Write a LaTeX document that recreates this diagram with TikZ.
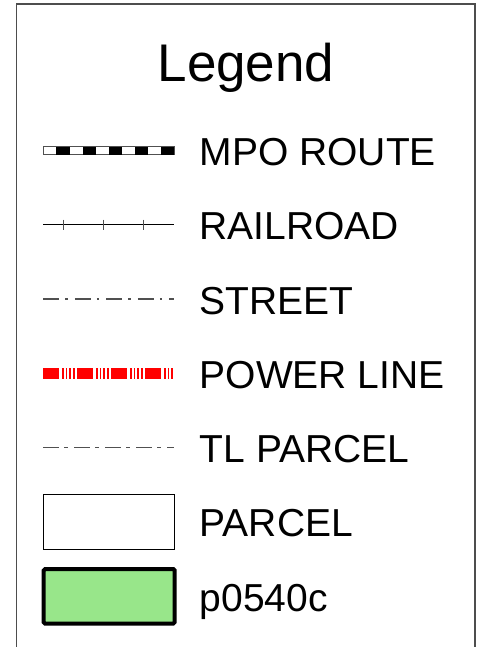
\documentclass[tikz,border=0pt]{standalone}
\usepackage{fontspec}
\setmainfont{Liberation Sans}
\usepackage{xcolor}
\usepackage{tikz}
\usetikzlibrary{calc}
\usetikzlibrary{positioning}
\definecolor{frame-gray}{HTML}{4D4D4D}
\definecolor{line-gray}{HTML}{505050}
\definecolor{parcel-green}{RGB}{152,230,138}

\begin{document}
\begin{tikzpicture}[x=1pt, y=-1pt,
    legendtext/.style={anchor=base west, font=\fontsize{39}{47}\selectfont, inner sep=0pt},
    dashdot/.style={line width=1.1pt, color=line-gray, dash pattern=on 16pt off 6pt on 2.5pt off 7pt}]

    \useasboundingbox (0,0) rectangle (477,647);

    % frame
    \draw[color=frame-gray, line width=1.3pt] (16.5,647) -- (16.5,4) -- (475,4) -- (475,647);

    % title
    \node[anchor=base, font=\fontsize{53}{63}\selectfont, inner sep=0pt] (title) at (246,82) {Legend};

    % labels
    \begin{scope}[every node/.style={legendtext}]
        \node (mpo) at (199.5,166) {MPO ROUTE};
        \node (rail) at (199.5,239.5) {RAILROAD};
        \node (street) at (199.5,314) {STREET};
        \node (power) at (199.5,388.7) {POWER LINE};
        \node (tl) at (199.5,462.7) {TL PARCEL};
        \node (parcel) at (199.5,536.7) {PARCEL};
        \node (pzone) at (199.5,611.3) {p0540c};
    \end{scope}

    % mpo route
    \draw[color=line-gray, line width=1pt] (43.3,147) rectangle (174.3,155);
    \foreach \i in {1,3,5,7,9}
        \fill[black] (43.3+\i*13.1,147) rectangle (43.3+\i*13.1+13.1,155);

    % railroad
    \draw[line width=1.3pt] (43.3,224.5) -- (174.3,224.5);
    \foreach \x in {63,103,143}
        \draw[line width=1pt, color=line-gray] (\x,219.5) -- (\x,229.5);

    % street
    \draw[dashdot] (43.3,299) -- (174.3,299);

    % power line
    \draw[color=red, line width=10.5pt,
          dash pattern=on 16pt off 2.5pt on 2pt off 2pt on 1.5pt off 2pt on 1.5pt off 2pt on 2pt off 2.5pt]
        (43.3,373.7) -- (174.3,373.7);

    % tl parcel
    \draw[dashdot, dash pattern=on 16pt off 5pt on 4pt off 6pt] (43.3,447.7) -- (174.3,447.7);

    % parcel
    \draw[line width=1pt] (43.3,494) rectangle (174.3,549.3);

    % zoning area
    \draw[line width=4pt, rounded corners=1.5pt, fill=parcel-green] (43.7,569) rectangle (174.7,623.7);

\end{tikzpicture}
\end{document}
